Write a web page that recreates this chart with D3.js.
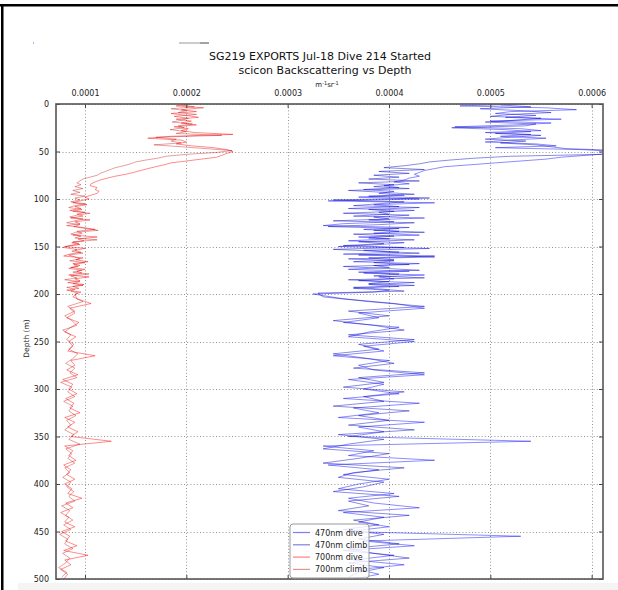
<!DOCTYPE html>
<html><head><meta charset="utf-8">
<script src="https://cdn.jsdelivr.net/npm/d3@7/dist/d3.min.js"></script>
<style>body{margin:0;background:#fff}svg{display:block}text{font-family:"DejaVu Sans",sans-serif}</style>
</head><body><svg id="c" width="618" height="590"></svg>
<script>
// ---------- data ----------
const titleLines = ["SG219 EXPORTS Jul-18 Dive 214 Started", "scicon Backscattering vs Depth"];
const yLabel = "Depth (m)";
const xTickValues = [0.0001, 0.0002, 0.0003, 0.0004, 0.0005, 0.0006];
const xTickLabels = ["0.0001", "0.0002", "0.0003", "0.0004", "0.0005", "0.0006"];
const yTickValues = [0, 50, 100, 150, 200, 250, 300, 350, 400, 450, 500];
const xDomain = [0.0000714, 0.0006112];
const yDomain = [0, 500];
const seriesNames = ["470nm dive", "470nm climb", "700nm dive", "700nm climb"];
const UNIT = 1e-4; // values below are in units of 1e-4 m^-1 sr^-1

const diveDepth = [0,2,4,6,8,10,12,14,16,18,20,22,24,26,28,30,32,34,36,38,40,42,44,46,48,
50,52,54,56,58,60,62,64,66,68,70,72,74,76,78,80,82,84,86,88,90,92,94,96,98,100,
102,104,106,108,110,112,114,116,118,120,122,124,126,128,130,132,134,136,138,140,
142,144,146,148,150,152,154,156,158,160,162,164,166,168,170,172,174,176,178,180,
182,184,186,188,190,192,194,196,198,200,
205,210,215,220,225,230,235,240,245,250,255,260,265,270,275,280,285,290,295,300,
305,310,315,320,325,330,335,340,345,350,355,360,365,370,375,380,385,390,395,400,
405,410,415,420,425,430,435,440,445,450,455,460,465,470,475,480,485,490,495,500];

const climbDepth = [1,3,5,7,9,11,13,15,17,19,21,23,25,27,29,31,33,35,37,39,41,43,45,47,49,51,53,
55,57,59,61,63,65,67,69,71,73,75,77,79,81,83,85,87,89,91,93,95,97,99,
101,103,105,107,109,111,113,115,117,119,121,123,125,127,129,131,133,135,137,139,
141,143,145,147,149,151,153,155,157,159,161,163,165,167,169,171,173,175,177,179,
181,183,185,187,189,191,193,195,197,199,
203,208,213,218,223,228,233,238,243,248,253,258,263,268,273,278,283,288,293,298,
303,308,313,318,323,328,333,338,343,348,353,358,363,368,373,378,383,388,393,398,
403,408,413,418,423,428,433,438,443,448,453,458,463,468,473,478,483,488,493,498];

const b470Dive = [5.35,4.70,5.55,5.85,5.20,5.05,5.45,5.15,5.70,5.00,5.60,5.25,4.65,5.30,5.50,4.95,5.40,5.10,5.55,5.20,4.95,5.45,5.65,5.05,5.90,
6.25,6.20,5.95,5.70,5.55,5.30,5.05,4.80,4.55,4.45,4.35,4.30,4.25,4.30,4.20,4.15,4.05,4.20,3.95,4.10,3.75,4.05,3.90,4.15,3.70,4.30,
3.40,4.45,3.85,4.10,3.60,4.25,3.90,4.00,3.65,4.35,3.80,4.05,3.55,3.35,4.20,3.75,4.10,3.85,4.30,3.70,
4.00,3.60,4.15,3.90,3.50,4.40,3.75,4.10,3.55,4.45,3.80,4.05,3.65,4.30,3.85,4.00,3.60,4.20,3.75,4.35,
3.90,4.05,3.70,4.25,3.80,4.10,3.65,4.00,3.85,3.25,
3.55,4.05,4.35,3.70,3.90,3.55,4.10,3.80,3.60,4.25,3.75,3.95,3.45,4.00,3.70,3.85,4.35,3.60,3.95,3.75,
4.10,3.55,4.30,3.65,3.90,3.50,4.35,3.70,3.95,3.60,5.40,3.35,3.85,3.60,4.45,3.40,3.90,3.55,4.00,3.70,
3.50,4.05,3.60,3.85,4.30,3.55,3.95,3.70,4.00,3.60,5.30,3.75,4.25,3.55,4.05,3.65,4.15,3.70,3.90,3.65];

const b470Climb = [5.10,5.40,4.90,5.30,5.60,5.20,5.00,5.50,5.25,4.95,5.45,5.35,4.62,5.15,5.40,5.05,5.50,5.20,4.95,5.35,5.10,5.45,5.60,5.75,6.30,6.40,6.10,
5.20,4.85,4.60,4.40,4.30,4.15,3.95,4.35,3.90,4.20,3.85,4.10,3.80,4.30,3.70,4.05,3.85,4.20,3.60,3.95,4.25,3.80,4.40,
3.45,4.15,3.90,3.65,4.30,3.80,4.05,3.55,4.20,3.85,4.00,3.45,4.25,3.90,3.40,4.10,3.85,4.35,3.65,4.05,
3.80,4.25,3.70,3.95,3.55,4.15,3.45,3.90,4.30,3.70,4.45,3.60,4.05,3.85,4.20,3.55,3.95,4.30,3.70,4.10,
3.85,4.35,3.60,4.00,3.80,4.25,3.65,3.95,4.15,3.30,
3.35,3.80,4.35,3.60,4.00,3.45,3.85,4.15,3.60,4.25,3.70,3.90,3.45,3.80,4.05,3.65,4.35,3.70,3.95,3.55,
4.15,3.75,3.95,3.45,4.20,3.70,4.00,3.60,4.25,3.50,3.95,3.60,3.35,4.00,3.70,3.35,4.15,3.65,3.50,3.95,
3.75,3.45,4.10,3.60,3.80,3.50,4.20,3.65,3.90,3.55,3.95,3.70,4.10,3.60,3.85,4.20,3.60,3.95,3.70,3.60];

const r700Dive = [2.05,1.90,2.17,1.95,2.10,1.85,2.00,2.12,1.90,2.05,1.95,2.10,1.88,2.02,1.95,2.08,2.46,1.85,1.62,1.95,2.00,1.90,2.05,2.27,2.40,
2.46,2.40,2.35,2.30,2.15,2.00,1.85,1.78,1.70,1.62,1.55,1.48,1.40,1.30,1.22,1.15,1.10,1.06,1.05,1.12,1.10,1.14,1.12,1.06,1.00,1.04,
0.95,0.88,1.02,0.90,0.96,0.85,1.00,0.92,0.98,0.86,1.05,0.90,0.95,0.82,0.98,1.10,0.92,0.97,0.88,1.12,
0.93,0.99,0.87,0.95,0.80,1.00,0.90,0.96,0.85,0.79,0.98,0.91,1.03,0.88,0.95,0.86,1.00,0.92,0.97,0.84,
1.04,0.90,0.95,0.83,0.99,0.88,0.94,0.82,0.96,0.90,
0.92,1.06,0.85,0.90,0.82,0.94,0.86,0.80,0.91,0.84,0.88,0.83,1.10,0.86,0.90,0.82,0.93,0.78,0.88,0.84,
0.92,0.81,0.89,0.85,0.95,0.80,0.90,0.83,0.93,0.86,1.26,0.80,0.88,0.84,0.91,0.79,0.86,0.82,0.90,0.80,
0.87,0.83,0.97,0.81,0.88,0.76,0.84,0.80,0.90,0.77,0.85,0.81,0.92,0.79,1.03,0.80,0.86,0.76,0.83,0.79];

const r700Climb = [1.95,2.08,1.85,2.00,1.92,2.10,1.88,2.02,1.96,1.86,2.06,1.92,1.98,1.84,2.00,1.90,2.35,1.70,1.90,1.85,1.95,1.68,1.95,2.20,2.45,2.30,2.00,
1.80,1.72,1.60,1.50,1.45,1.38,1.30,1.25,1.20,1.15,1.12,1.05,0.98,0.95,0.92,0.96,0.90,0.98,0.88,0.95,0.86,1.00,0.90,
0.95,0.86,1.00,0.90,0.84,0.97,0.88,1.05,0.92,0.85,0.98,0.90,0.82,0.95,0.89,1.00,1.13,0.91,0.86,0.96,
0.90,1.12,0.88,0.94,0.85,0.78,0.92,0.87,0.98,0.84,0.90,0.95,0.85,1.00,0.89,0.93,0.84,0.97,0.88,1.04,
0.86,0.92,0.80,0.95,0.88,0.98,0.82,0.90,0.86,0.93,
0.88,0.98,0.83,0.90,0.80,0.87,0.92,0.78,0.86,0.82,0.89,0.84,0.93,0.88,0.81,0.90,0.85,0.92,0.76,0.87,
0.83,0.90,0.79,0.88,0.84,0.91,0.82,0.86,0.80,0.89,0.84,0.95,0.81,0.87,0.83,0.90,0.80,0.85,0.78,0.86,
0.82,0.89,0.84,0.90,0.77,0.85,0.81,0.88,0.79,0.86,0.75,0.83,0.80,0.88,0.78,0.85,0.81,0.74,0.82,0.77];

const seriesValues = [b470Dive, b470Climb, r700Dive, r700Climb];
const seriesDepths = [diveDepth, climbDepth, diveDepth, climbDepth];
const seriesColors = ["rgba(0,0,255,0.5)", "rgba(0,0,190,0.5)", "rgba(255,0,0,0.5)", "rgba(190,0,0,0.42)"];

// ---------- drawing ----------
const svg = d3.select("#c");
const W = 618, H = 590;
const plot = {left: 56, right: 603, top: 104, bottom: 579};

// page decorations
svg.append("rect").attr("x", 18).attr("y", 583).attr("width", W - 18).attr("height", H - 583).attr("fill", "#f4f4f4");
svg.append("rect").attr("x", 0).attr("y", 4).attr("width", W).attr("height", 2.5).attr("fill", "#000");
svg.append("rect").attr("x", 1).attr("y", 4).attr("width", 2.5).attr("height", H - 4).attr("fill", "#000");
svg.append("line").attr("x1", 179).attr("x2", 200).attr("y1", 43).attr("y2", 43).attr("stroke", "#aaa").attr("stroke-width", 1.2);
svg.append("line").attr("x1", 200).attr("x2", 209).attr("y1", 43).attr("y2", 43).attr("stroke", "#666").attr("stroke-width", 1.2);
svg.append("rect").attr("x", 33).attr("y", 42.5).attr("width", 1).attr("height", 1).attr("fill", "#66f");

const x = d3.scaleLinear().domain(xDomain).range([plot.left, plot.right]);
const y = d3.scaleLinear().domain(yDomain).range([plot.top, plot.bottom]);

// grid
const grid = svg.append("g").attr("stroke", "#888").attr("stroke-width", 0.9).attr("stroke-dasharray", "1,2.2");
grid.selectAll(".gx").data(xTickValues).join("line")
  .attr("x1", d => Math.round(x(d)) + 0.5).attr("x2", d => Math.round(x(d)) + 0.5)
  .attr("y1", plot.top).attr("y2", plot.bottom);
grid.selectAll(".gy").data(yTickValues).join("line")
  .attr("y1", d => Math.round(y(d)) + 0.5).attr("y2", d => Math.round(y(d)) + 0.5)
  .attr("x1", plot.left).attr("x2", plot.right);

// lines
svg.append("clipPath").attr("id", "clip").append("rect")
  .attr("x", plot.left).attr("y", plot.top).attr("width", plot.right - plot.left).attr("height", plot.bottom - plot.top);
const lineGen = d3.line().x(d => x(d[0] * UNIT)).y(d => y(d[1]));
const lines = svg.append("g").attr("clip-path", "url(#clip)");
seriesValues.forEach((vals, i) => {
  const pts = vals.map((v, k) => [v, seriesDepths[i][k]]);
  lines.append("path").attr("d", lineGen(pts)).attr("fill", "none")
    .attr("stroke", seriesColors[i]).attr("stroke-width", 0.9).attr("stroke-linejoin", "round");
});

// axes
const tickLen = 4;
const xTop = d3.axisTop(x).tickValues(xTickValues).tickFormat((d, i) => xTickLabels[i]).tickSizeInner(-tickLen).tickSizeOuter(0).tickPadding(8);
const xBot = d3.axisBottom(x).tickValues(xTickValues).tickFormat("").tickSizeInner(-tickLen).tickSizeOuter(0);
const yLeft = d3.axisLeft(y).tickValues(yTickValues).tickSizeInner(-tickLen).tickSizeOuter(0).tickPadding(7);
const yRight = d3.axisRight(y).tickValues(yTickValues).tickFormat("").tickSizeInner(-tickLen).tickSizeOuter(0);

function styleAxis(g) {
  g.select(".domain").remove();
  g.selectAll(".tick line").attr("stroke", "#444").attr("stroke-width", 1);
  g.selectAll(".tick text").attr("fill", "#222").attr("font-size", 8).attr("font-family", "DejaVu Sans");
}
svg.append("g").attr("transform", `translate(0,${plot.top})`).call(xTop).call(styleAxis);
svg.append("g").attr("transform", `translate(0,${plot.bottom})`).call(xBot).call(styleAxis);
svg.append("g").attr("transform", `translate(${plot.left},0)`).call(yLeft).call(styleAxis);
svg.append("g").attr("transform", `translate(${plot.right},0)`).call(yRight).call(styleAxis);

// frame
svg.append("rect").attr("x", plot.left).attr("y", plot.top).attr("width", plot.right - plot.left).attr("height", plot.bottom - plot.top)
  .attr("fill", "none").attr("stroke", "#555").attr("stroke-width", 1.6);

// titles
svg.append("text").attr("x", 320).attr("y", 60).attr("text-anchor", "middle").attr("font-size", 11).attr("fill", "#111").text(titleLines[0]);
svg.append("text").attr("x", 325).attr("y", 74).attr("text-anchor", "middle").attr("font-size", 11).attr("fill", "#111").text(titleLines[1]);
const unitsText = svg.append("text").attr("x", 327).attr("y", 87).attr("text-anchor", "middle").attr("font-size", 7).attr("fill", "#222");
unitsText.append("tspan").text("m");
unitsText.append("tspan").attr("dy", -2).attr("font-size", 5).text("-1");
unitsText.append("tspan").attr("dy", 2).text("sr");
unitsText.append("tspan").attr("dy", -2).attr("font-size", 5).text("-1");
svg.append("text").attr("transform", `translate(29,${(plot.top + plot.bottom) / 2 - 3}) rotate(-90)`)
  .attr("text-anchor", "middle").attr("font-size", 7.5).attr("fill", "#222").text(yLabel);

// legend
const lg = svg.append("g").attr("transform", "translate(290,524)");
lg.append("rect").attr("width", 79).attr("height", 54).attr("rx", 3).attr("fill", "rgba(255,255,255,0.8)").attr("stroke", "#999").attr("stroke-width", 1);
seriesNames.forEach((name, i) => {
  const yy = 8.5 + i * 12.3;
  lg.append("line").attr("x1", 3).attr("x2", 20).attr("y1", yy).attr("y2", yy).attr("stroke", seriesColors[i]).attr("stroke-width", 1.2);
  lg.append("text").attr("x", 25).attr("y", yy + 3).attr("font-size", 8).attr("fill", "#222").text(name);
});
</script></body></html>
